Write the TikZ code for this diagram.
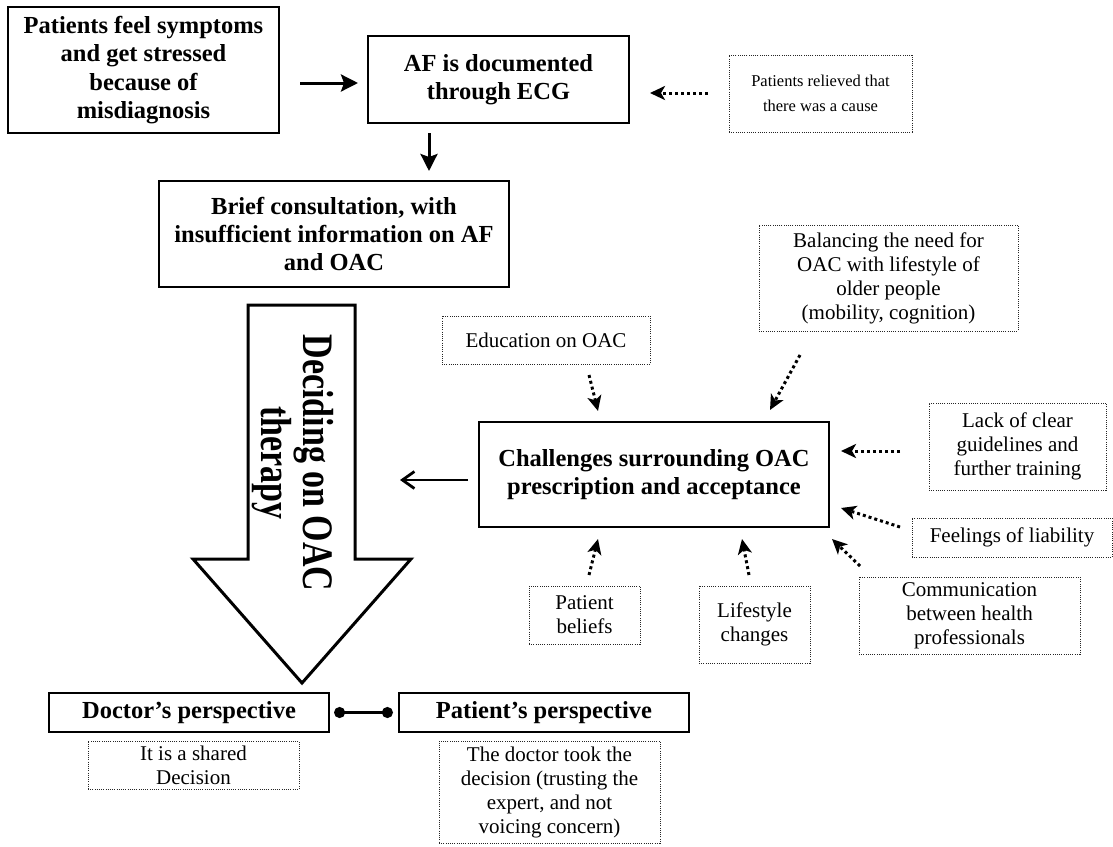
\documentclass[tikz,border=0pt]{standalone}
\usepackage{graphicx}
\usepackage{fontspec}
\setmainfont{Liberation Serif}
\usetikzlibrary{arrows.meta}
\newcommand\boldtxt{\bfseries\fontsize{24.5}{28.3}\selectfont}
\newcommand\regtxt{\fontsize{21}{24}\selectfont}
\newcommand\smalltxt{\fontsize{16.5}{25}\selectfont}
\newcommand\bigtxt{\bfseries\fontsize{34}{31}\selectfont}
\tikzset{
  solidbox/.style={draw, line width=1.2pt, inner sep=0pt, align=center, font=\boldtxt},
  dotbox/.style={draw, black!85, text=black, line width=0.9pt, dash pattern=on 1pt off 1.2pt,
                 inner sep=0pt, align=center, font=\regtxt},
  flow/.style={line width=3pt, -{Stealth[length=17pt,width=17pt,inset=3pt]}},
  feed/.style={line width=2.8pt, -{Straight Barb[length=12pt,width=17pt]}},
  influence/.style={line width=3pt, dash pattern=on 3pt off 3pt,
                    -{Stealth[length=15pt,width=14pt,inset=4pt]}},
  link/.style={line width=2.5pt, {Circle[length=11pt]}-{Circle[length=11pt]}},
}
\begin{document}
\begin{tikzpicture}[x=1pt,y=-1pt]
\useasboundingbox (0,0) rectangle (1113,846);

% main flow
\node[solidbox, minimum width=271pt, minimum height=126pt] (b1) at (143.5,70)
  {Patients feel symptoms\\and get stressed\\because of\\misdiagnosis};
\node[solidbox, minimum width=261pt, minimum height=87pt] (b2) at (498.5,79.5)
  {AF is documented\\through ECG};
\node[dotbox, font=\smalltxt, minimum width=183pt, minimum height=77pt] (rel) at (820.5,93.5)
  {Patients relieved that\\there was a cause};
\node[solidbox, minimum width=350pt, minimum height=106pt] (b3) at (334,234)
  {Brief consultation, with\\insufficient information on AF\\and OAC};

% big downward arrow
\draw[line width=3pt, line join=miter] (248,305) -- (355,305) -- (355,559) -- (411,559)
  -- (302,683) -- (193,559) -- (248,559) -- cycle;
\node[rotate=-90, inner sep=0pt, font=\bigtxt] (decide) at (292,463)
  {\scalebox{1}[1.28]{\begin{tabular}{@{}c@{}}Deciding on OAC\\therapy\end{tabular}}};
\coordinate (decide-in) at (400,480);

% challenges and influences
\node[solidbox, minimum width=350pt, minimum height=105pt] (chal) at (654,474.5)
  {Challenges surrounding OAC\\prescription and acceptance};
\node[dotbox, minimum width=208pt, minimum height=48pt] (edu) at (546,340)
  {Education on OAC};
\node[dotbox, minimum width=259pt, minimum height=106pt] (bal) at (888.5,278)
  {Balancing the need for\\OAC with lifestyle of\\older people\\(mobility, cognition)};
\node[dotbox, minimum width=177pt, minimum height=87pt] (lack) at (1017.5,446.5)
  {Lack of clear\\guidelines and\\further training};
\node[dotbox, minimum width=200pt, minimum height=39pt] (liab) at (1012,537.5)
  {Feelings of liability};
\node[dotbox, minimum width=221pt, minimum height=77pt] (comm) at (969.5,615.5)
  {Communication\\between health\\professionals};
\node[dotbox, minimum width=111pt, minimum height=58pt] (belief) at (584.5,615)
  {Patient\\beliefs};
\node[dotbox, minimum width=111pt, minimum height=77pt] (life) at (754.5,624.5)
  {Lifestyle\\changes};

% perspectives
\node[solidbox, minimum width=280pt, minimum height=39pt] (doc) at (189,712.5)
  {Doctor’s perspective};
\node[solidbox, minimum width=290pt, minimum height=39pt] (pat) at (544,712.5)
  {Patient’s perspective};
\node[dotbox, minimum width=211pt, minimum height=48pt] (shared) at (193.5,765)
  {It is a shared\\Decision};
\node[dotbox, minimum width=221pt, minimum height=102pt] (took) at (549.5,792)
  {The doctor took the\\decision (trusting the\\expert, and not\\voicing concern)};

% connector end points
\coordinate (b1-out) at (300,83);     \coordinate (b2-in-w) at (358,83);
\coordinate (rel-out) at (708,93);    \coordinate (b2-in-e) at (650,93);
\coordinate (b2-out) at (429,133);    \coordinate (b3-in) at (429,171);
\coordinate (chal-out) at (468,480);
\coordinate (edu-out) at (589,375);   \coordinate (chal-in1) at (598,411);
\coordinate (bal-out) at (800,355);   \coordinate (chal-in2) at (770,410);
\coordinate (lack-out) at (900,451);  \coordinate (chal-in3) at (841,451);
\coordinate (liab-out) at (900,527);  \coordinate (chal-in4) at (841,508);
\coordinate (comm-out) at (860,566);  \coordinate (chal-in5) at (832,539);
\coordinate (belief-out) at (589,575);\coordinate (chal-in6) at (598,539);
\coordinate (life-out) at (749,575);  \coordinate (chal-in7) at (742,539);

% connectors
\draw[flow] (b1-out) -- (b2-in-w);
\draw[flow] (b2-out) -- (b3-in);
\draw[feed] (chal-out) -- (decide-in);
\draw[influence] (rel-out) -- (b2-in-e);
\draw[influence] (edu-out) -- (chal-in1);
\draw[influence] (bal-out) -- (chal-in2);
\draw[influence] (lack-out) -- (chal-in3);
\draw[influence] (liab-out) -- (chal-in4);
\draw[influence] (comm-out) -- (chal-in5);
\draw[influence] (belief-out) -- (chal-in6);
\draw[influence] (life-out) -- (chal-in7);
\draw[link, shorten <=4.5pt, shorten >=5.5pt] (doc.east) -- (pat.west);
\end{tikzpicture}
\end{document}
